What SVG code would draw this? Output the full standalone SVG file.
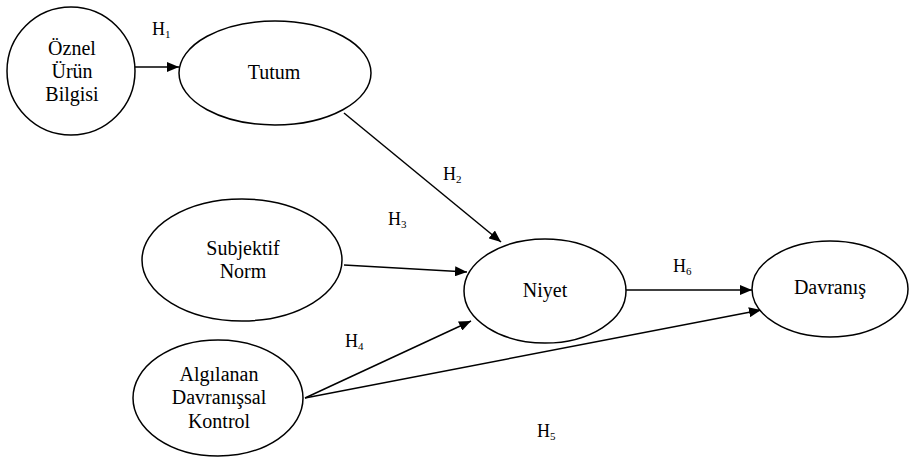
<svg xmlns="http://www.w3.org/2000/svg" width="910" height="458" viewBox="0 0 910 458">
<style>
.n{fill:#fff;stroke:#000;stroke-width:1.5}
.t{font-family:'Liberation Serif','Times New Roman',serif;font-size:20px;fill:#000;text-anchor:middle}
.h{font-family:'Liberation Serif','Times New Roman',serif;font-size:18px;fill:#000}
.s{font-size:11px}
.c{stroke:#000;stroke-width:1.5;fill:none;marker-end:url(#a)}
</style>
<defs>
<marker id="a" markerWidth="12" markerHeight="10" refX="12" refY="5" orient="auto" markerUnits="userSpaceOnUse">
<path d="M0,0 L12,5 L0,10 z" fill="#000"/>
</marker>
</defs>
<g id="connectors">
<line class="c" x1="135" y1="67" x2="179" y2="67"/>
<line class="c" x1="344" y1="113" x2="501" y2="242"/>
<line class="c" x1="344" y1="265" x2="467" y2="272"/>
<line class="c" x1="305" y1="398" x2="471" y2="321"/>
<line class="c" x1="305" y1="398" x2="761" y2="310"/>
<line class="c" x1="625" y1="290" x2="752" y2="290"/>
</g>
<g id="oznel"><circle class="n" cx="71" cy="71" r="64"/>
<text class="t" x="72" y="55">Öznel</text><text class="t" x="72" y="78">Ürün</text><text class="t" x="72" y="101">Bilgisi</text></g>
<g id="tutum"><ellipse class="n" cx="275" cy="73" rx="96" ry="52"/><text class="t" x="274" y="79">Tutum</text></g>
<g id="subjektif"><ellipse class="n" cx="242" cy="260" rx="100" ry="61"/>
<text class="t" x="243" y="255">Subjektif</text><text class="t" x="243" y="278">Norm</text></g>
<g id="niyet"><ellipse class="n" cx="545" cy="291" rx="81" ry="52"/><text class="t" x="545" y="297">Niyet</text></g>
<g id="davranis"><ellipse class="n" cx="830" cy="289" rx="78" ry="48"/><text class="t" x="830" y="294">Davranış</text></g>
<g id="algilanan"><ellipse class="n" cx="218" cy="398" rx="85" ry="58"/>
<text class="t" x="219" y="381">Algılanan</text><text class="t" x="219" y="404">Davranışsal</text><text class="t" x="219" y="428">Kontrol</text></g>
<g id="labels">
<text class="h" x="152" y="35">H<tspan class="s" dy="3">1</tspan></text>
<text class="h" x="443" y="180">H<tspan class="s" dy="3">2</tspan></text>
<text class="h" x="388" y="225">H<tspan class="s" dy="3">3</tspan></text>
<text class="h" x="345" y="347">H<tspan class="s" dy="3">4</tspan></text>
<text class="h" x="537" y="437">H<tspan class="s" dy="3">5</tspan></text>
<text class="h" x="673" y="272">H<tspan class="s" dy="3">6</tspan></text>
</g>
</svg>
